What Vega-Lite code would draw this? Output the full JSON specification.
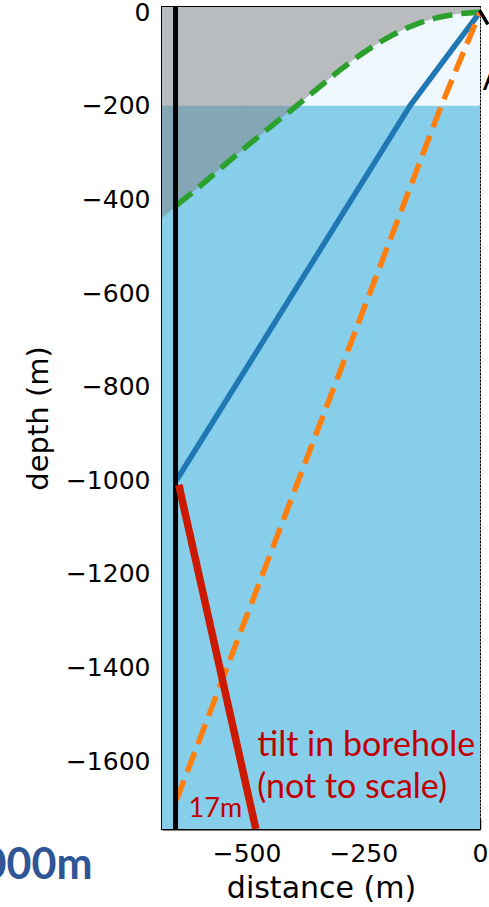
{
  "$schema": "https://vega.github.io/schema/vega-lite/v6.json",
  "width": 318,
  "height": 822,
  "autosize": {"type": "none"},
  "padding": {"left": 162, "top": 7, "right": 9, "bottom": 78},
  "background": "white",
  "config": {
    "view": {"stroke": "black", "strokeWidth": 2},
    "axis": {
      "labelFont": "DejaVu Sans",
      "labelFontSize": 25,
      "labelColor": "black",
      "titleFont": "DejaVu Sans",
      "titleFontWeight": "normal",
      "titleColor": "black",
      "domainColor": "black",
      "domainWidth": 2,
      "tickColor": "black",
      "tickWidth": 1.5,
      "tickSize": -10,
      "grid": true,
      "gridColor": "#8c8c8c",
      "gridDash": [1.5, 2],
      "gridWidth": 1,
      "labelFlush": false,
      "labelOverlap": false,
      "zindex": 1
    }
  },
  "datasets": {
    "bands": [
      {"zone": "shallow", "top": 11, "bottom": -200},
      {"zone": "deep", "top": -200, "bottom": -1745}
    ],
    "green": [
      {"dist": 0, "depth": 0},
      {"dist": -50, "depth": -4},
      {"dist": -100, "depth": -14},
      {"dist": -150, "depth": -31},
      {"dist": -200, "depth": -56},
      {"dist": -250, "depth": -87},
      {"dist": -300, "depth": -124},
      {"dist": -350, "depth": -165},
      {"dist": -400, "depth": -206},
      {"dist": -450, "depth": -246},
      {"dist": -500, "depth": -287},
      {"dist": -550, "depth": -329},
      {"dist": -600, "depth": -372},
      {"dist": -650, "depth": -413},
      {"dist": -681, "depth": -440}
    ],
    "blue": [
      {"dist": 0, "depth": 0},
      {"dist": -150, "depth": -200},
      {"dist": -650, "depth": -1000}
    ],
    "orange": [
      {"dist": 0, "depth": 0},
      {"dist": -83, "depth": -200},
      {"dist": -650, "depth": -1683}
    ],
    "red": [
      {"dist": -645, "depth": -1010},
      {"dist": -480, "depth": -1745}
    ],
    "borehole": [{"dist": -652}],
    "arrow": [
      {"dist": -1, "depth": 4},
      {"dist": 17, "depth": -26}
    ],
    "note": [{"dist": -477, "depth": -1590, "label": ["tilt in borehole", "(not to scale)"]}],
    "small": [{"dist": -624, "depth": -1719, "label": "17m"}],
    "big": [{"dist": -830, "depth": -1852, "label": "1000m"}],
    "letter": [{"dist": 6, "depth": -166, "label": "A"}]
  },
  "layer": [
    {
      "data": {"name": "bands"},
      "mark": {"type": "rect"},
      "encoding": {
        "x": {"datum": -681, "type": "quantitative", "scale": {"domain": [-681, 0], "nice": false, "zero": false}, "axis": {"values": [-500, -250, 0], "format": "d", "labelPadding": 22, "title": "distance (m)", "titleFontSize": 30, "titlePadding": 7}},
        "x2": {"datum": 0},
        "y": {"field": "top", "type": "quantitative", "scale": {"domain": [-1745, 11], "nice": false, "zero": false}, "axis": {"values": [-1600, -1400, -1200, -1000, -800, -600, -400, -200, 0], "format": "d", "labelPadding": 22, "title": "depth (m)", "titleFontSize": 29, "titlePadding": 12}},
        "y2": {"field": "bottom"},
        "color": {"field": "zone", "type": "nominal", "scale": {"domain": ["shallow", "deep"], "range": ["#f0f8ff", "#87ceeb"]}, "legend": null}
      }
    },
    {
      "data": {"name": "green"},
      "mark": {"type": "area", "color": "#808080", "opacity": 0.5, "clip": true, "interpolate": "monotone"},
      "encoding": {
        "x": {"field": "dist", "type": "quantitative"},
        "y": {"field": "depth", "type": "quantitative"},
        "y2": {"datum": 11}
      }
    },
    {
      "data": {"name": "green"},
      "transform": [{"filter": "datum.dist >= -652"}],
      "mark": {"type": "line", "color": "#2ca02c", "strokeWidth": 5.5, "strokeDash": [20, 9], "interpolate": "monotone"},
      "encoding": {
        "x": {"field": "dist", "type": "quantitative"},
        "y": {"field": "depth", "type": "quantitative"}
      }
    },
    {
      "data": {"name": "blue"},
      "mark": {"type": "line", "color": "#1f77b4", "strokeWidth": 5.5},
      "encoding": {
        "x": {"field": "dist", "type": "quantitative"},
        "y": {"field": "depth", "type": "quantitative"}
      }
    },
    {
      "data": {"name": "orange"},
      "mark": {"type": "line", "color": "#ff7f0e", "strokeWidth": 5.5, "strokeDash": [21, 9]},
      "encoding": {
        "x": {"field": "dist", "type": "quantitative"},
        "y": {"field": "depth", "type": "quantitative"}
      }
    },
    {
      "data": {"name": "borehole"},
      "mark": {"type": "rule", "color": "black", "strokeWidth": 5},
      "encoding": {
        "x": {"field": "dist", "type": "quantitative"}
      }
    },
    {
      "data": {"name": "red"},
      "mark": {"type": "line", "color": "#cc1a00", "strokeWidth": 7.5, "clip": true},
      "encoding": {
        "x": {"field": "dist", "type": "quantitative"},
        "y": {"field": "depth", "type": "quantitative"}
      }
    },
    {
      "data": {"name": "arrow"},
      "mark": {"type": "line", "color": "black", "strokeWidth": 3.5},
      "encoding": {
        "x": {"field": "dist", "type": "quantitative"},
        "y": {"field": "depth", "type": "quantitative"}
      }
    },
    {
      "data": {"name": "note"},
      "mark": {"type": "text", "align": "left", "baseline": "alphabetic", "font": "Lato", "fontSize": 34, "lineHeight": 42, "color": "#c00000"},
      "encoding": {
        "x": {"field": "dist", "type": "quantitative"},
        "y": {"field": "depth", "type": "quantitative"},
        "text": {"field": "label"}
      }
    },
    {
      "data": {"name": "small"},
      "mark": {"type": "text", "align": "left", "baseline": "alphabetic", "font": "Lato", "fontSize": 27, "color": "#c00000"},
      "encoding": {
        "x": {"field": "dist", "type": "quantitative"},
        "y": {"field": "depth", "type": "quantitative"},
        "text": {"field": "label"}
      }
    },
    {
      "data": {"name": "big"},
      "mark": {"type": "text", "align": "right", "baseline": "alphabetic", "font": "Lato", "fontWeight": "bold", "fontSize": 43, "color": "#2f5597"},
      "encoding": {
        "x": {"field": "dist", "type": "quantitative"},
        "y": {"field": "depth", "type": "quantitative"},
        "text": {"field": "label"}
      }
    },
    {
      "data": {"name": "letter"},
      "mark": {"type": "text", "align": "left", "baseline": "alphabetic", "font": "Lato", "fontSize": 32, "color": "black"},
      "encoding": {
        "x": {"field": "dist", "type": "quantitative"},
        "y": {"field": "depth", "type": "quantitative"},
        "text": {"field": "label"}
      }
    }
  ]
}
